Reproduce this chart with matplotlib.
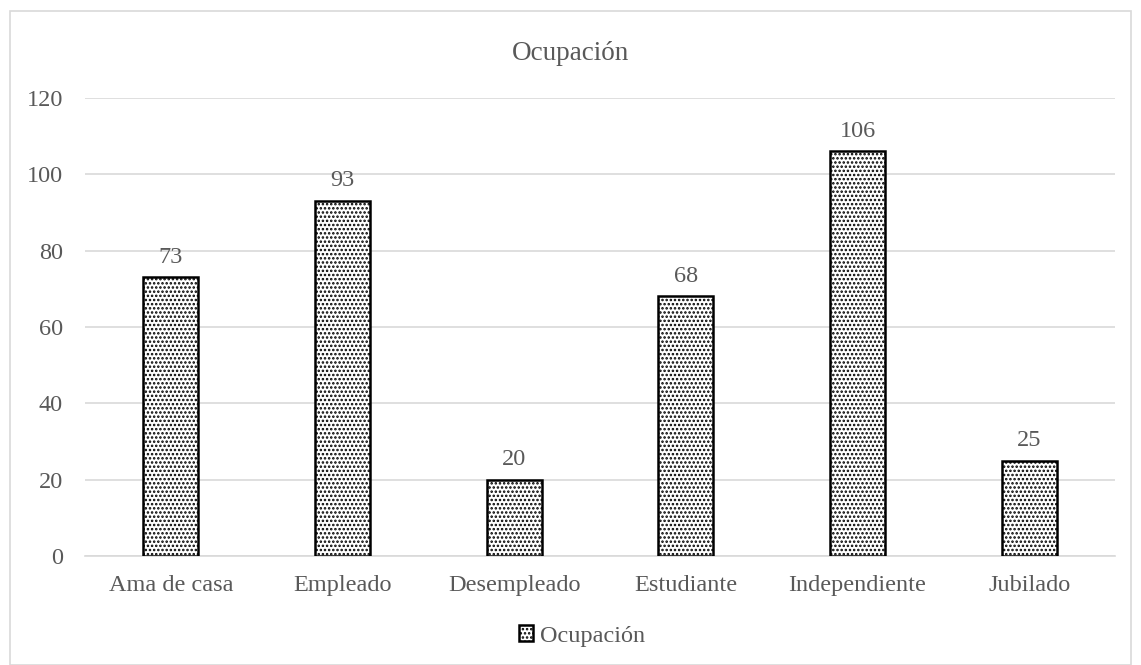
import matplotlib
matplotlib.use("Agg")
import matplotlib.pyplot as plt
from matplotlib.patches import Rectangle

categories = ["Ama de casa", "Empleado", "Desempleado", "Estudiante", "Independiente", "Jubilado"]
values = [73, 93, 20, 68, 106, 25]
yticks = [0, 20, 40, 60, 80, 100, 120]
title = "Ocupación"

plt.rcParams['font.family'] = ['Liberation Serif', 'DejaVu Serif']
plt.rcParams['hatch.linewidth'] = 1.2
text_color = "#595959"
grid_color = "#d9d9d9"
fs = 17.5

W, H = 1141, 665
fig = plt.figure(figsize=(W / 100, H / 100), dpi=100)
ax = fig.add_axes([85 / W, 1 - 556 / H, 1030 / W, 458 / H])

x = list(range(len(categories)))
bars = ax.bar(x, values, width=0.32, color="white", edgecolor="black",
              linewidth=1.8, hatch="....", label=title, zorder=3)

for xi, v in zip(x, values):
    ax.annotate(str(v), (xi, v), xytext=(0, 7), textcoords="offset points",
                ha="center", va="bottom", fontsize=fs, color=text_color)

ax.set_xlim(-0.5, len(categories) - 0.5)
ax.set_ylim(0, 120)
ax.set_yticks(yticks)
ax.set_xticks(x)
ax.set_xticklabels(categories)
ax.yaxis.grid(True, color=grid_color, linewidth=1.2, zorder=0)
ax.tick_params(axis="both", length=0, labelsize=fs, labelcolor=text_color)
ax.tick_params(axis="y", pad=16)
ax.tick_params(axis="x", pad=14)
for side in ["top", "right", "left"]:
    ax.spines[side].set_visible(False)
ax.spines["bottom"].set_color(grid_color)
ax.spines["bottom"].set_linewidth(1.2)

fig.text(0.5, 1 - 53 / H, title, ha="center", va="center", fontsize=19.5, color=text_color)

leg = fig.legend(handles=[bars], labels=[title], loc="center", bbox_to_anchor=(582 / W, 1 - 636 / H),
                 frameon=False, fontsize=fs, handlelength=0.6, handleheight=0.6,
                 handletextpad=0.3)
for t in leg.get_texts():
    t.set_color(text_color)

fig.patches.append(Rectangle((10 / W, 0.5 / H), 1121 / W, 654 / H, transform=fig.transFigure,
                             fill=False, edgecolor=grid_color, linewidth=1.2))

fig.savefig("out.png", dpi=100, facecolor="white")
